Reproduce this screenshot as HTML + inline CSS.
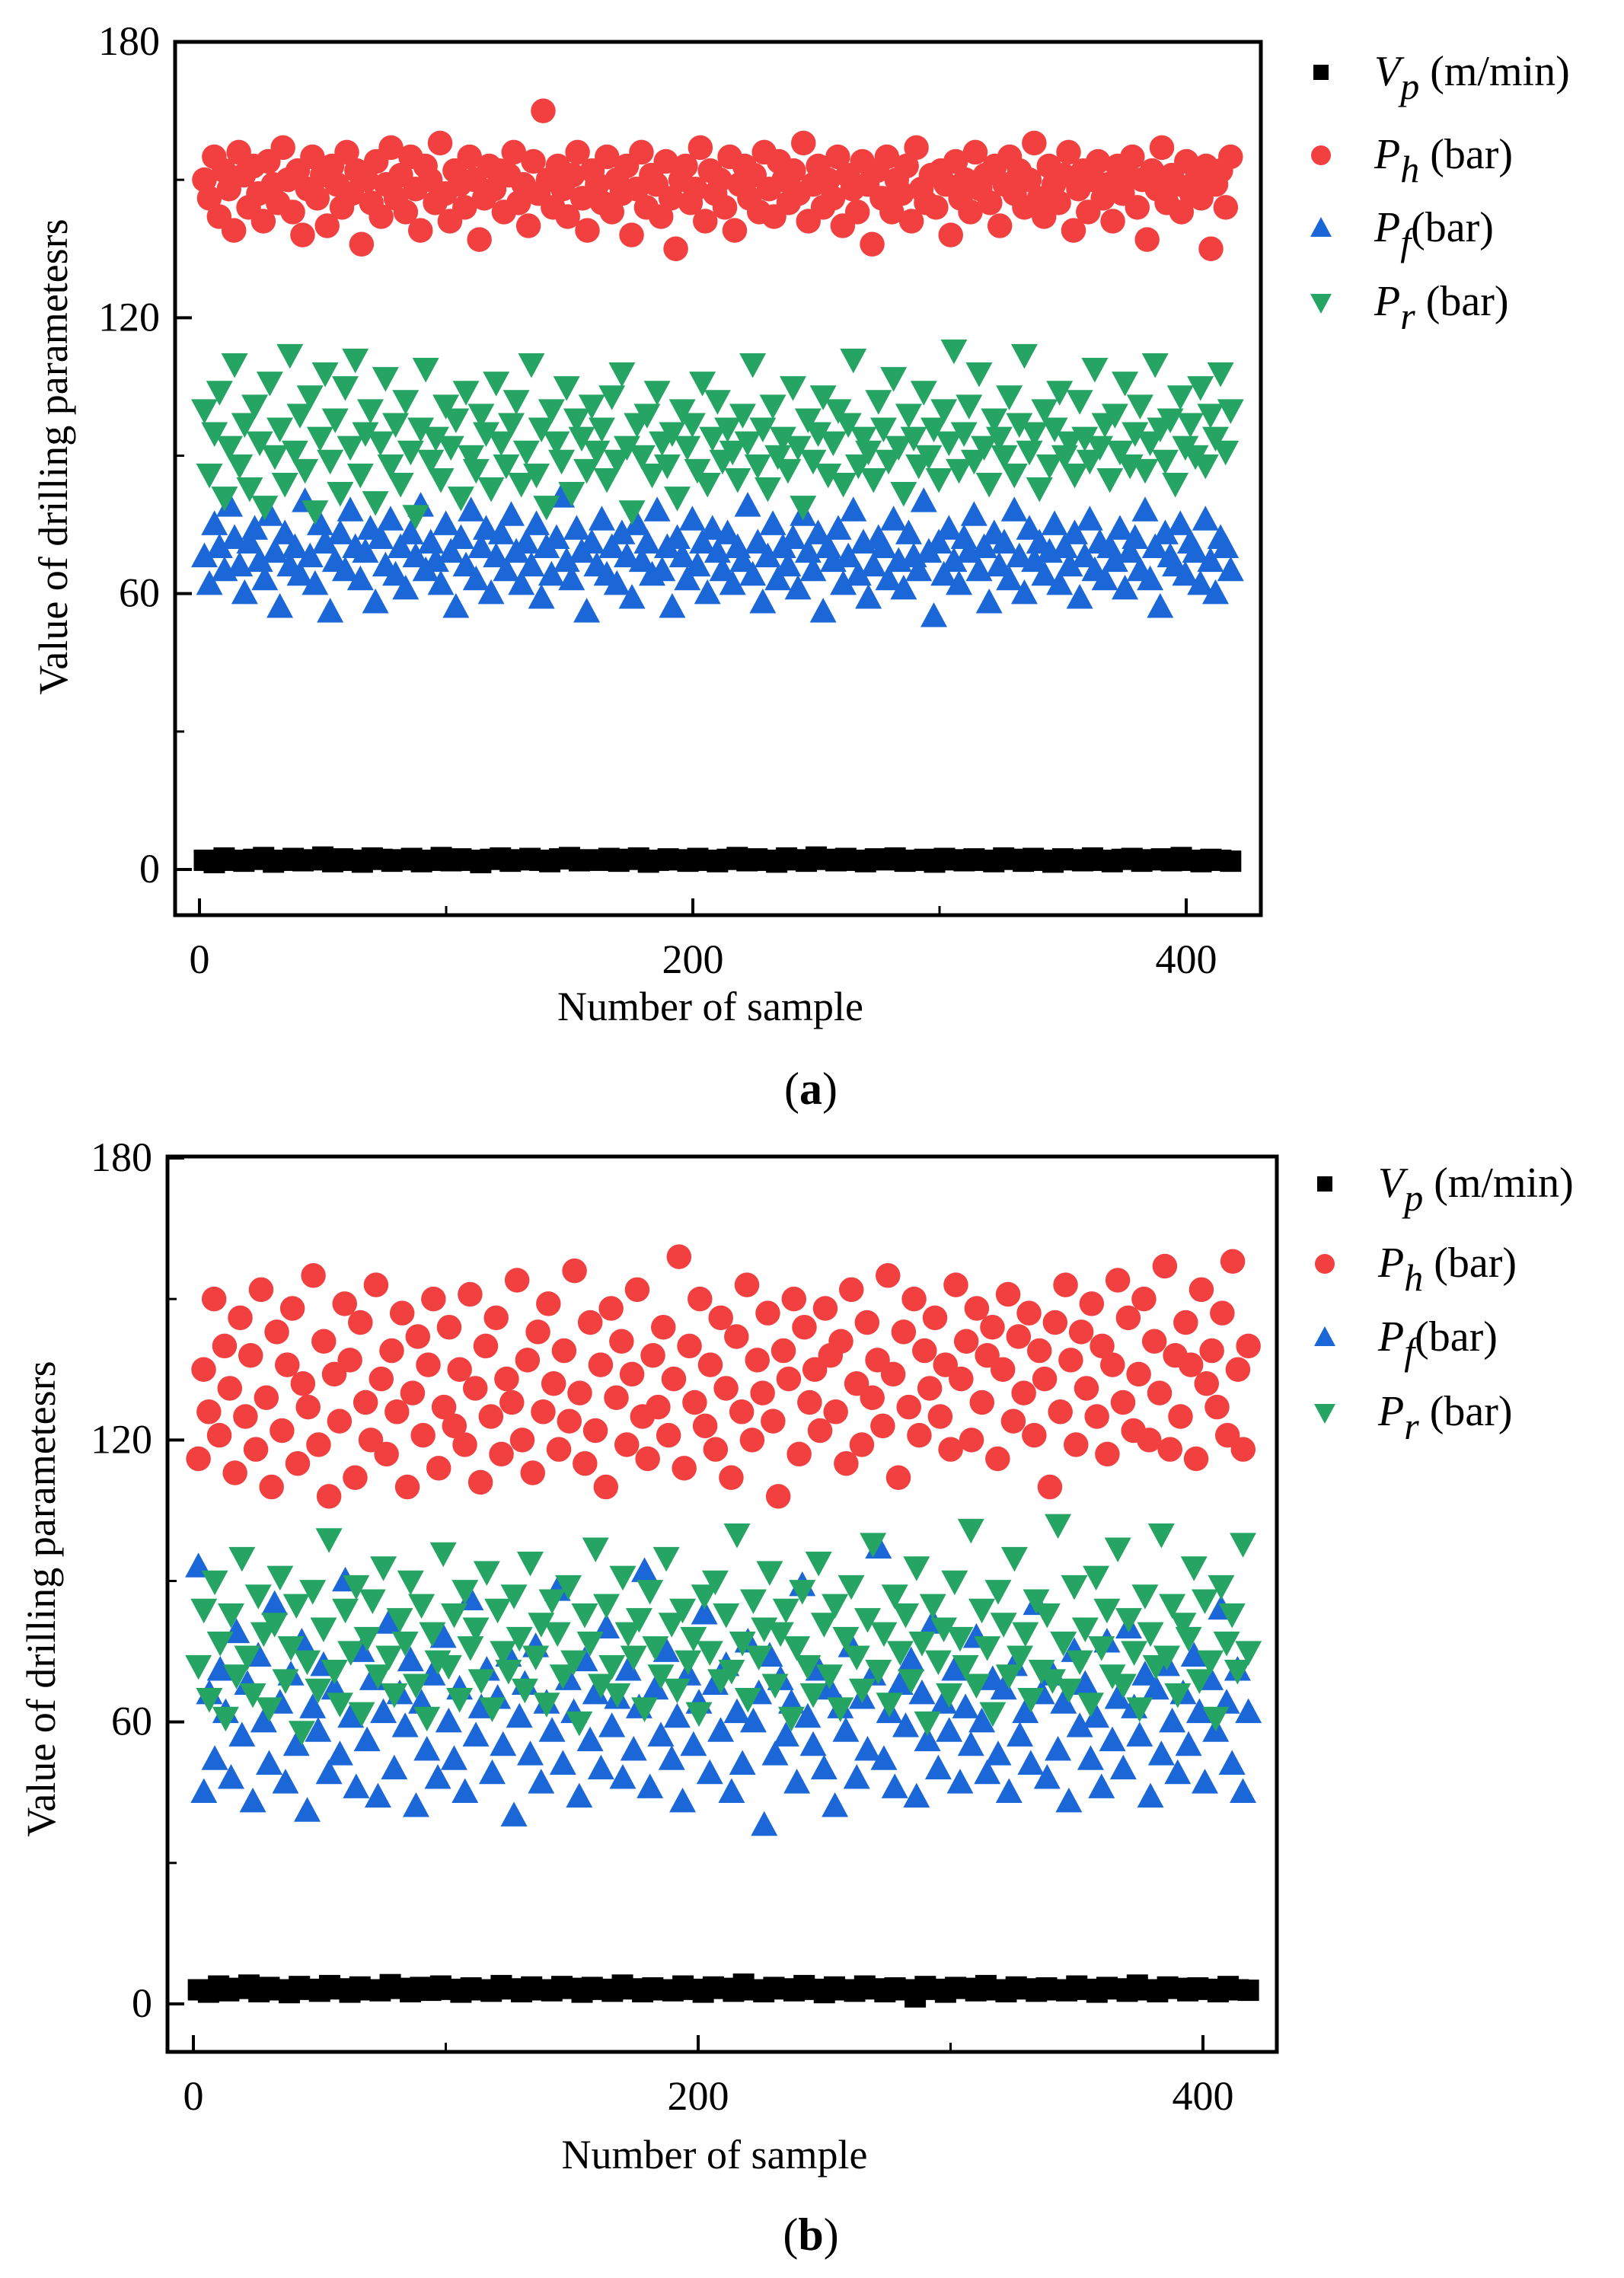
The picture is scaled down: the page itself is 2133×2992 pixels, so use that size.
<!DOCTYPE html>
<html><head><meta charset="utf-8">
<style>
html,body{margin:0;padding:0;background:#fff;}
svg{display:block;font-family:"Liberation Serif",serif;}
</style></head>
<body>
<svg id="fig" width="2133" height="2992" viewBox="0 0 2133 2992" xmlns="http://www.w3.org/2000/svg"></svg>
<script>
// ---- Chart (a) data ----
const aVp = [2,1.5,2.5,2,1.8,2.2,2.6,1.6,2,2.4,1.9,2.1,2.7,1.7,2.3,2,1.6,2.5,2.2,1.8,2.1,2.4,1.7,2,2.6,1.9,2.3,2,1.5,2.2,2.5,1.8,2.1,2.4,2,1.7,2.3,2.6,1.9,2.1,2,2.4,1.8,2.2,2.5,1.6,2,2.3,2.1,1.8,2.4,2,1.7,2.2,2.6,1.9,2.3,2,1.6,2.5,2.1,1.8,2.7,2.2,1.9,2.4,2,1.7,2.3,2.1,2.5,1.8,2,2.2,1.6,2.4,2.1,1.9,2.3,2,1.7,2.5,2.2,1.8,2.4,2,1.6,2.3,2.1,1.9,2.5,2,1.7,2.2,2.4,1.8,2.1,2.3,1.9,2.6,2,1.7,2.2,2,1.8];
const aPh = [150,146,155,142,152,148,139,156,151,144,153,147,141,154,149,
145,157,150,143,152,138,148,155,146,151,140,153,149,144,156,
147,152,136,150,145,154,142,149,157,146,151,143,155,148,139,
153,150,145,158,147,141,152,149,144,155,150,137,146,153,148,
152,143,151,156,145,149,140,154,147,165,150,144,153,148,142,
151,156,146,139,152,149,145,155,143,150,147,153,138,148,156,
144,151,149,142,154,146,135,150,153,145,148,157,141,152,147,
150,144,155,139,149,153,146,151,143,156,148,142,154,150,145,
152,147,158,141,149,153,144,150,146,155,140,151,148,143,154,
149,136,152,146,155,143,150,147,153,141,157,148,145,151,144,
152,149,138,154,146,150,143,156,148,151,145,153,140,149,155,
147,152,144,150,158,146,142,153,149,145,151,156,139,148,152,
143,150,154,146,149,141,153,147,151,155,144,150,137,152,148,
157,145,151,149,143,154,147,150,146,153,135,149,152,144,155];
const aPf = [68,62,75,70,65,79,72,66,60,71,74,67,63,77,69,
57,73,66,70,64,80,68,62,75,71,56,67,73,65,78,
70,63,69,74,58,72,66,76,64,70,61,73,68,79,65,
71,67,62,75,69,57,72,66,78,63,70,74,60,68,73,
65,77,69,62,71,66,75,59,70,64,72,81,67,63,74,
69,56,71,66,76,64,70,62,73,68,59,75,67,71,64,
78,65,70,57,72,68,63,76,66,71,60,74,69,65,73,
62,70,67,79,64,71,58,68,75,63,70,66,72,61,77,
69,65,73,56,70,67,74,62,68,78,64,71,59,66,72,
70,63,76,67,61,73,68,65,80,69,55,71,64,74,67,
62,72,69,77,65,70,58,73,66,71,63,78,68,60,74,
67,71,64,69,75,62,70,66,73,59,68,76,65,71,63,
70,67,74,61,69,72,65,78,63,70,57,73,68,66,75,
64,71,69,62,76,67,60,72,70,65];
const aPr = [100,86,95,104,81,92,110,88,97,83,101,93,79,106,90,
96,84,112,91,99,87,103,78,94,108,89,98,82,105,92,
111,86,95,100,80,93,107,88,97,84,102,91,77,96,109,
89,94,85,101,92,98,81,104,90,87,99,95,83,106,93,
88,97,102,84,91,110,86,96,79,100,93,89,105,82,98,
94,87,101,91,96,85,103,89,108,92,78,97,90,99,86,
104,93,88,95,81,100,92,97,87,106,84,94,102,89,96,
91,85,99,93,110,88,96,83,101,90,94,87,105,92,79,
98,89,95,103,86,93,100,84,97,111,88,94,91,85,102,
96,89,107,92,82,99,94,88,104,90,96,85,100,93,113,
87,95,101,89,108,92,84,98,94,90,103,86,97,112,91,
95,83,100,88,96,104,90,93,86,102,94,89,109,92,97,
85,99,91,106,88,95,101,87,93,110,96,89,98,84,103,
92,97,90,105,88,99,94,108,91,100];
// ---- Chart (b) data ----
const bVp = [3,2.5,3.8,2.8,3.3,4,2.6,3.5,3,2.4,3.7,3.1,2.7,3.9,3.2,2.5,3.6,3,2.8,4.1,3.3,2.6,3.5,2.9,3.8,3.1,2.5,3.4,3,2.7,3.9,3.2,2.6,3.6,3,2.8,3.7,3.3,2.5,3.5,3.1,2.7,4,3.2,2.6,3.4,3,2.8,3.8,3.1,2.5,3.6,3.3,2.7,4.2,3,2.6,3.5,3.2,2.8,3.9,3.1,2.4,3.6,3,2.7,3.8,3.2,2.6,3.4,3,1.5,3.7,3.1,2.5,3.5,3.3,2.8,3.9,3,2.6,3.6,3.2,2.7,3.4,3,2.8,3.8,3.1,2.5,3.5,3.2,2.7,4,3,2.6,3.6,3.3,2.8,3.4,3.1,2.6,3.7,3,2.9];
const bPh = [116,135,126,150,121,140,131,113,146,125,138,118,152,129,110,
143,122,136,148,115,132,127,155,119,141,108,134,124,149,137,
112,145,128,120,153,133,117,139,126,147,110,130,142,121,136,
150,114,127,144,123,135,119,151,131,111,140,125,146,117,133,
128,154,120,137,113,143,126,149,132,118,139,124,156,130,115,
145,122,136,110,148,129,141,119,134,152,125,116,138,127,144,
121,133,159,114,140,128,150,123,136,118,146,131,112,142,126,
153,120,137,130,147,124,108,139,133,150,117,144,128,135,122,
148,138,126,141,115,152,132,119,145,129,137,123,155,134,112,
143,127,150,121,139,131,146,125,136,118,153,133,141,120,148,
128,138,144,116,135,151,124,142,130,147,121,139,133,110,145,
126,153,137,119,143,131,149,125,140,117,136,154,128,146,122,
134,150,120,141,130,157,118,138,125,145,136,116,152,132,139,
127,147,121,158,135,118,140];
const bPf = [93,45,66,52,71,62,48,79,57,68,43,74,60,51,85,
64,47,70,55,77,41,63,58,72,49,67,53,90,61,46,
75,56,69,44,62,81,50,66,59,73,42,64,54,70,48,
78,60,52,67,45,86,57,63,71,49,65,55,74,40,61,
68,53,76,47,64,58,88,51,69,62,44,73,56,66,50,
80,59,65,48,71,54,63,92,46,67,57,75,52,61,43,
70,55,64,83,49,68,58,72,45,62,51,77,60,66,38,
74,53,69,57,64,47,89,61,55,71,50,67,42,63,58,
76,48,65,54,70,97,52,62,46,68,59,73,44,66,56,
81,50,64,58,71,47,63,55,78,60,49,69,53,67,45,
72,57,62,51,85,66,48,70,54,64,43,75,59,68,52,
61,46,77,56,65,50,80,63,57,70,44,67,53,72,60,
49,66,55,74,62,47,69,58,84,64,51,71,45,62];
const bPr = [72,84,65,90,77,61,83,70,95,74,66,87,79,63,81,
91,69,76,85,58,73,88,67,80,99,71,64,84,75,89,
62,78,86,70,93,74,66,82,77,90,68,85,61,79,73,
96,72,83,65,88,76,80,69,92,63,84,75,71,87,78,
67,94,74,81,64,86,79,70,89,73,60,83,77,97,68,
85,72,66,91,79,74,82,63,88,76,70,95,81,67,84,
73,78,62,87,75,90,69,83,71,100,77,65,86,74,80,
92,68,79,84,61,76,88,72,66,94,81,70,85,63,78,
89,74,67,82,98,71,79,64,87,75,83,69,93,77,60,
85,73,80,66,90,78,72,101,68,84,76,62,88,81,70,
95,74,79,65,86,71,83,69,102,77,67,89,73,80,64,
91,76,84,70,97,68,82,75,63,87,79,72,100,74,85,
66,81,78,93,69,86,73,61,89,77,83,71,98,75];
const xTicks = [0,200,400];
const xMinor = [100,300];
const yTicks = [0,60,120,180];
const yMinor = [30,90,150];
const N_SAMPLES = 420;

const NS = "http://www.w3.org/2000/svg";
const svg = document.getElementById('fig');
function mk(tag, attrs, parent){
  const e = document.createElementNS(NS, tag);
  for (const k in attrs) e.setAttribute(k, attrs[k]);
  (parent||svg).appendChild(e);
  return e;
}
const RED="#f24040", BLUE="#1c67d8", GREEN="#25a463";

function marker(g, type, cx, cy, color, big){
  const s = big ? 1.25 : 1;
  let m;
  if (type==='sq'){ const w=big?28:20; m = mk('rect',{x:cx-w/2,y:cy-w/2,width:w,height:w,fill:'#000'},g); }
  else if (type==='ci'){ m = mk('circle',{cx:cx,cy:cy,r:13*s,fill:color},g); }
  else if (type==='up'){ m = mk('polygon',{points:`${cx},${cy-15*s} ${cx+14*s},${cy+11*s} ${cx-14*s},${cy+11*s}`,fill:color},g); }
  else { m = mk('polygon',{points:`${cx},${cy+15*s} ${cx+14*s},${cy-11*s} ${cx-14*s},${cy-11*s}`,fill:color},g); }
  return m;
}

function chart(c){
  const g = mk('g',{});
  
  
  const X = v => c.x0 + (c.x400 - c.x0) * v / 400;
  const Y = v => c.y0 - (c.y0 - c.y180) * v / 180;
  const series = [
    {d:c.vp, t:'sq', col:'#000', n:'vp-series'},
    {d:c.pf, t:'up', col:BLUE, n:'pf-series'},
    {d:c.pr, t:'dn', col:GREEN, n:'pr-series'},
    {d:c.ph, t:'ci', col:RED, n:'ph-series'}
  ];
  for (const s of series){
    const sg = mk('g',{},g);
    
    
    const step = (N_SAMPLES - 4) / (s.d.length - 1);
    s.d.forEach((v,i)=>{
      const m = marker(sg, s.t, X(2 + i*step), Y(v), s.col, true);
      
      
    });
  }
  const fr = mk('rect',{x:c.L,y:c.T,width:c.R-c.L,height:c.B-c.T,fill:'none',stroke:'#000','stroke-width':5},g);
  
  
  xTicks.forEach(t=>{
    const l = mk('line',{x1:X(t),x2:X(t),y1:c.B,y2:c.B-22,stroke:'#000','stroke-width':4},g);
    
    
    const tx = mk('text',{x:X(t),y:c.B+76,'font-size':54,'text-anchor':'middle'},g);
    tx.textContent = t;
    
    
  });
  xMinor.forEach(t=>{ mk('line',{x1:X(t),x2:X(t),y1:c.B,y2:c.B-12,stroke:'#000','stroke-width':3},g); });
  yTicks.forEach(t=>{
    const l = mk('line',{x1:c.L,x2:c.L+22,y1:Y(t),y2:Y(t),stroke:'#000','stroke-width':4},g);
    
    
    const tx = mk('text',{x:c.L-20,y:Y(t)+17,'font-size':54,'text-anchor':'end'},g);
    tx.textContent = t;
    
    
  });
  yMinor.forEach(t=>{ mk('line',{x1:c.L,x2:c.L+12,y1:Y(t),y2:Y(t),stroke:'#000','stroke-width':3},g); });
  const xt = mk('text',{x:(c.L+c.R)/2-10,y:c.xtY,'font-size':54,'text-anchor':'middle'},g);
  xt.textContent = 'Number of sample';
  
  
  const yt = mk('text',{x:0,y:0,'font-size':54,'text-anchor':'middle',transform:`translate(${c.ytX},${c.ytY}) rotate(-90)`},g);
  yt.textContent = 'Value of drilling parametesrs';
  
  
  const items = [
    {t:'sq',col:'#000',v:'V',s:'p',u:' (m/min)'},
    {t:'ci',col:RED,v:'P',s:'h',u:' (bar)'},
    {t:'up',col:BLUE,v:'P',s:'f',u:'(bar)'},
    {t:'dn',col:GREEN,v:'P',s:'r',u:' (bar)'}
  ];
  const lg = mk('g',{},g);
  
  
  items.forEach((it,i)=>{
    const y = c.legY[i];
    marker(lg, it.t, c.legX, y, it.col, false);
    const tx = mk('text',{x:c.legX+70,y:y+17,'font-size':56},lg);
    
    
    const a = mk('tspan',{'font-style':'italic'},tx); a.textContent = it.v;
    const b = mk('tspan',{'font-style':'italic',dy:18,'font-size':50},tx); b.textContent = it.s;
    const u = mk('tspan',{dy:-18},tx); u.textContent = it.u;
  });
  const pl = mk('text',{x:1065,y:c.plY,'font-size':60,'text-anchor':'middle'},g);
  
  
  const p1 = mk('tspan',{},pl); p1.textContent='(';
  const p2 = mk('tspan',{'font-weight':'bold'},pl); p2.textContent=c.lab;
  const p3 = mk('tspan',{},pl); p3.textContent=')';
}

chart({name:'chart-a', vp:aVp, ph:aPh, pf:aPf, pr:aPr,
  L:230,R:1656,T:55,B:1202,x0:262,x400:1558,y0:1142,y180:55,
  xtY:1340,ytX:88,ytY:600,legX:1735,legY:[95,204,300,397],plY:1450,lab:'a'});
chart({name:'chart-b', vp:bVp, ph:bPh, pf:bPf, pr:bPr,
  L:220,R:1677,T:1519,B:2695,x0:254,x400:1580,y0:2632,y180:1521,
  xtY:2848,ytX:72,ytY:2100,legX:1740,legY:[1555,1660,1757,1855],plY:2955,lab:'b'});
</script>
</body></html>
